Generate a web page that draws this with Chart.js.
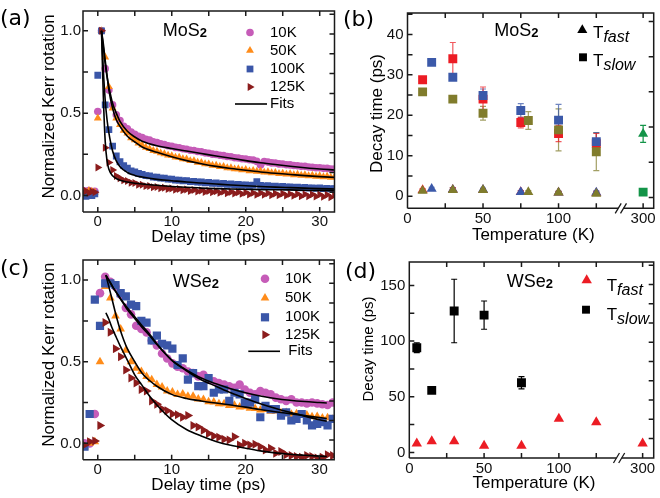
<!DOCTYPE html>
<html lang="en">
<head>
<meta charset="utf-8">
<title>Kerr rotation dynamics in MoS2 and WSe2</title>
<script src="https://cdn.jsdelivr.net/npm/chart.js@4.4.1/dist/chart.umd.min.js"></script>
<style>
  html, body { margin: 0; padding: 0; background: #fff; }
  #figure { position: relative; width: 660px; height: 498px; overflow: hidden; }
  #figure canvas { position: absolute; }
</style>
</head>
<body>
<div id="figure">
  <canvas id="panel-a" width="340" height="249" style="left:0;top:0"></canvas>
  <canvas id="panel-b" width="320" height="249" style="left:340px;top:0"></canvas>
  <canvas id="panel-c" width="340" height="249" style="left:0;top:249px"></canvas>
  <canvas id="panel-d" width="320" height="249" style="left:340px;top:249px"></canvas>
</div>
<script>
// ---------- (a) MoS2: normalized Kerr rotation vs delay ----------
const delayA = [-2, -1.6, -1.2, -0.8, -0.4, 0, 0.5,
  1, 1.5, 2, 2.5, 3, 3.5, 4, 4.5, 5, 5.5,
  6, 6.5, 7, 7.5, 8, 8.5, 9, 9.5, 10, 10.5,
  11, 11.5, 12, 12.5, 13, 13.5, 14, 14.5, 15, 15.5,
  16, 16.5, 17, 17.5, 18, 18.5, 19, 19.5, 20, 20.5,
  21, 21.5, 22, 22.5, 23, 23.5, 24, 24.5, 25, 25.5,
  26, 26.5, 27, 27.5, 28, 28.5, 29, 29.5, 30, 30.5,
  31, 31.5, 32];
const kerrA10K = [0.03, 0.025, 0.03, 0.02, 0.025, 0.51, 1.0,
  0.77, 0.64, 0.55, 0.49, 0.455, 0.42, 0.405, 0.385, 0.372, 0.36,
  0.352, 0.341, 0.336, 0.326, 0.321, 0.314, 0.309, 0.302, 0.299, 0.292,
  0.29, 0.284, 0.281, 0.275, 0.273, 0.267, 0.265, 0.259, 0.257, 0.251,
  0.249, 0.244, 0.242, 0.237, 0.235, 0.229, 0.228, 0.223, 0.222, 0.217,
  0.215, 0.207, 0.186, 0.206, 0.203, 0.198, 0.197, 0.192, 0.191, 0.187,
  0.186, 0.182, 0.181, 0.177, 0.177, 0.173, 0.172, 0.169, 0.169, 0.165,
  0.165, 0.161, 0.161];
const kerrA50K = [0.03, 0.02, 0.03, 0.025, 0.02, 0.47, 1.0,
  0.84, 0.66, 0.53, 0.47, 0.43, 0.395, 0.378, 0.35, 0.338, 0.318,
  0.305, 0.292, 0.284, 0.272, 0.268, 0.258, 0.253, 0.244, 0.241, 0.232,
  0.231, 0.222, 0.221, 0.211, 0.211, 0.201, 0.2, 0.192, 0.191, 0.183,
  0.183, 0.175, 0.176, 0.168, 0.168, 0.161, 0.162, 0.155, 0.157, 0.149,
  0.152, 0.146, 0.148, 0.141, 0.143, 0.137, 0.139, 0.133, 0.135, 0.129,
  0.132, 0.125, 0.128, 0.122, 0.125, 0.119, 0.122, 0.116, 0.119, 0.113,
  0.116, 0.11, 0.113];
const kerrA100K = [0.0, -0.005, 0.005, 0.0, 0.01, 0.73, 1.0,
  0.55, 0.40, 0.30, 0.24, 0.205, 0.182, 0.166, 0.15, 0.143, 0.134,
  0.129, 0.121, 0.119, 0.112, 0.111, 0.105, 0.105, 0.099, 0.099, 0.094,
  0.094, 0.089, 0.09, 0.085, 0.086, 0.081, 0.082, 0.077, 0.079, 0.074,
  0.076, 0.071, 0.073, 0.068, 0.07, 0.066, 0.067, 0.063, 0.065, 0.061,
  0.063, 0.085, 0.062, 0.057, 0.06, 0.055, 0.057, 0.053, 0.055, 0.051,
  0.053, 0.049, 0.051, 0.047, 0.049, 0.045, 0.047, 0.043, 0.046, 0.042,
  0.044, 0.04, 0.042];
const kerrA125K = [0.02, 0.028, 0.015, 0.025, 0.02, 0.17, 1.0,
  0.29, 0.20, 0.155, 0.118, 0.105, 0.092, 0.088, 0.078, 0.076, 0.066,
  0.066, 0.057, 0.058, 0.05, 0.052, 0.044, 0.047, 0.04, 0.043, 0.035,
  0.04, 0.032, 0.036, 0.028, 0.033, 0.024, 0.03, 0.022, 0.028, 0.02,
  0.026, 0.016, 0.024, 0.014, 0.022, 0.012, 0.02, 0.01, 0.018, 0.006,
  0.016, 0.005, 0.015, 0.004, 0.014, 0.002, 0.012, 0.001, 0.012, 0.0,
  0.01, -0.002, 0.009, -0.004, 0.008, -0.005, 0.007, -0.006, 0.006, -0.008,
  0.005, -0.01, 0.004];
const fitDelayA = [0.5, 0.75, 1, 1.25, 1.5, 2, 2.5, 3, 4, 5, 6, 8, 10, 12, 14, 16, 18, 20, 22, 24, 26, 28, 30, 32];
const fitA10K = [1.0, 0.90, 0.80, 0.72, 0.66, 0.56, 0.50, 0.45, 0.39, 0.355, 0.33, 0.302, 0.285, 0.27, 0.255, 0.24, 0.226, 0.212, 0.199, 0.188, 0.178, 0.169, 0.161, 0.155];
const fitA50K = [1.0, 0.92, 0.82, 0.73, 0.64, 0.53, 0.46, 0.42, 0.36, 0.325, 0.295, 0.262, 0.235, 0.212, 0.193, 0.177, 0.164, 0.153, 0.143, 0.135, 0.128, 0.121, 0.115, 0.11];
const fitA100K = [1.0, 0.76, 0.58, 0.46, 0.38, 0.27, 0.21, 0.175, 0.14, 0.122, 0.112, 0.098, 0.09, 0.082, 0.076, 0.07, 0.064, 0.059, 0.055, 0.051, 0.048, 0.045, 0.042, 0.04];
const fitA125K = [1.0, 0.6, 0.33, 0.21, 0.16, 0.12, 0.103, 0.093, 0.082, 0.075, 0.07, 0.062, 0.055, 0.05, 0.045, 0.042, 0.04, 0.038, 0.036, 0.035, 0.034, 0.032, 0.031, 0.03];

// ---------- (c) WSe2: normalized Kerr rotation vs delay ----------
const delayC = [-1.8, -1.1, -0.4, 0.3,
  1.0, 1.7, 2.4, 3.1, 3.8, 4.5, 5.2, 5.9, 6.6, 7.3,
  8.0, 8.7, 9.4, 10.1, 10.8, 11.5, 12.2, 12.9, 13.6, 14.3,
  15.0, 15.7, 16.4, 17.1, 17.8, 18.5, 19.2, 19.9, 20.6, 21.3,
  22.0, 22.7, 23.4, 24.1, 24.8, 25.5, 26.2, 26.9, 27.6, 28.3,
  29.0, 29.7, 30.4, 31.1, 31.8];
const kerrC10K = [0.0, 0.0, 0.18, 0.92,
  1.02, 0.99, 0.96, 0.91, 0.83, 0.79, 0.72, 0.70, 0.68, 0.63,
  0.60, 0.55, 0.52, 0.49, 0.47, 0.46, 0.44, 0.43, 0.41, 0.42,
  0.39, 0.38, 0.37, 0.36, 0.35, 0.34, 0.36, 0.33, 0.31, 0.30,
  0.32, 0.31, 0.30, 0.28, 0.27, 0.26, 0.27, 0.25, 0.25, 0.245,
  0.25, 0.245, 0.24, 0.235, 0.25];
const kerrC50K = [-0.02, 0.0, 0.01, 0.5,
  0.96, 0.89, 0.78, 0.70, 0.57, 0.50, 0.46, 0.44, 0.41, 0.39,
  0.36, 0.345, 0.32, 0.315, 0.3, 0.303, 0.288, 0.288, 0.272, 0.268,
  0.255, 0.253, 0.242, 0.243, 0.232, 0.233, 0.223, 0.225, 0.215, 0.214,
  0.205, 0.207, 0.197, 0.198, 0.188, 0.189, 0.179, 0.181, 0.171, 0.173,
  0.163, 0.165, 0.156, 0.157, 0.148];
const kerrC100K = [-0.02, 0.18, 0.88, 0.72,
  0.98, 0.98, 0.97, 0.92, 0.90, 0.85, 0.84, 0.75, 0.74, 0.63,
  0.66, 0.61, 0.60, 0.58, 0.48, 0.52, 0.39, 0.43, 0.35, 0.35,
  0.40, 0.31, 0.33, 0.33, 0.26, 0.31, 0.30, 0.25, 0.25, 0.27,
  0.16, 0.23, 0.21, 0.21, 0.17, 0.19, 0.14, 0.15, 0.18, 0.14,
  0.11, 0.12, 0.13, 0.11, 0.15];
const kerrC125K = [-0.01, 0.01, 0.014, 0.11,
  0.74, 0.68, 0.58, 0.53, 0.45, 0.40, 0.37, 0.33, 0.32, 0.26,
  0.24, 0.21, 0.20, 0.18, 0.175, 0.16, 0.17, 0.11, 0.10, 0.08,
  0.06, 0.045, 0.038, 0.025, 0.02, 0.04, -0.01, 0.0, -0.01, -0.005,
  -0.02, -0.04, -0.03, -0.06, -0.05, -0.07, -0.075, -0.08, -0.085, -0.075,
  -0.08, -0.09, -0.085, -0.07, -0.075];
const fitDelayC = [1.1, 1.5, 2, 2.5, 3, 3.5, 4, 5, 6, 7, 8, 10, 12, 14, 16, 18, 20, 22, 24, 26, 28, 30, 31];
const fitC10K = [1.03, 1.0, 0.96, 0.925, 0.89, 0.86, 0.83, 0.775, 0.72, 0.67, 0.61, 0.51, 0.45, 0.40, 0.365, 0.335, 0.31, 0.29, 0.275, 0.264, 0.256, 0.25, 0.247];
const fitC50K = [1.03, 0.96, 0.87, 0.78, 0.70, 0.635, 0.58, 0.50, 0.43, 0.385, 0.35, 0.30, 0.275, 0.26, 0.247, 0.235, 0.222, 0.207, 0.194, 0.182, 0.17, 0.158, 0.152];
const fitC100K = [1.03, 1.0, 0.96, 0.925, 0.89, 0.855, 0.82, 0.765, 0.71, 0.66, 0.605, 0.51, 0.445, 0.39, 0.35, 0.31, 0.275, 0.243, 0.215, 0.19, 0.167, 0.145, 0.135];
const fitC125K = [0.80, 0.76, 0.70, 0.65, 0.60, 0.555, 0.51, 0.42, 0.355, 0.29, 0.235, 0.145, 0.085, 0.045, 0.012, -0.012, -0.03, -0.046, -0.058, -0.067, -0.073, -0.078, -0.08];

// ---------- (b) MoS2: decay times vs temperature (three samples) ----------
const tempRedB = [10, 30, 50, 75, 100, 125];
const slowRedB = [28.8, 34.0, 24.0, 18.2, 15.5, 13.0];
const slowRedErrB = [0.5, 4.0, 3.0, 1.3, 2.0, 2.5];
const fastRedB = [1.5, 1.6, 1.5, 1.0, 0.9, 0.8];
const tempBlueB = [16, 30, 50, 75, 100, 125];
const slowBlueB = [33.1, 29.4, 24.9, 21.2, 18.8, 13.5];
const slowBlueErrB = [0.5, 0.6, 1.6, 1.7, 3.9, 2.2];
const fastBlueB = [1.8, 1.6, 1.6, 1.0, 0.9, 0.9];
const tempOliveB = [10, 30, 50, 80, 100, 125];
const slowOliveB = [25.8, 24.0, 20.5, 18.7, 16.4, 11.0];
const slowOliveErrB = [0.5, 0.5, 1.7, 2.2, 5.2, 4.7];
const fastOliveB = [1.3, 1.5, 1.5, 1.0, 0.9, 0.6];
const fastErrB = [0.4, 0.5, 0.4, 0.4, 0.3, 0.4];
const tempGreenB = [300];
const slowGreenB = [1.0];
const fastGreenB = [15.4];
const fastGreenErrB = [2.1];

// ---------- (d) WSe2: decay times vs temperature ----------
const tempSlowD = [5, 15, 30, 50, 75];
const slowD = [94, 55.7, 127, 123.3, 62.6];
const slowErrD = [4.4, 2.5, 28.5, 12.7, 5.5];
const tempFastD = [5, 15, 30, 50, 75, 100, 125, 300];
const fastD = [8, 10, 10, 6, 6, 30.3, 27.1, 8];

// ---------- axis ticks ----------
const delayTicks = [0, 5, 10, 15, 20, 25, 30];
const kerrTicks = [0, 0.25, 0.5, 0.75, 1.0];
const tempTicks = [0, 25, 50, 75, 100, 125, 300];
const decayTicksB = [0, 5, 10, 15, 20, 25, 30, 35, 40, 45];
const decayTicksD = [0, 25, 50, 75, 100, 125, 150];

// ---------- styling ----------
const SANS = "'Liberation Sans', Arial, Helvetica, sans-serif";
const LETTER = "'DejaVu Sans', sans-serif";
Chart.defaults.font.family = SANS;
Chart.defaults.color = "#000";

const S10K = { shape: "circle", r: 3.8, color: "#c65cb8", order: 4 };
const S50K = { shape: "triangle", r: 4.6, color: "#ff8c1a", order: 3 };
const S100K = { shape: "rect", r: 4.8, color: "#3a56a8", order: 2 };
const S125K = { shape: "triangle", r: 4.6, rotation: 90, color: "#8b1c1c", order: 1 };
const C10K = { ...S10K, r: 4.3 };
const C50K = { ...S50K, r: 5 };
const C100K = { ...S100K, r: 5.8 };
const C125K = { ...S125K, r: 5.2 };

const RED = "#ec1c24", BLUE = "#3b59a9", OLIVE = "#807c2c", GREEN = "#139448";
const sq = (color, order) => ({ shape: "rect", r: 6.3, color, order });
const tri = (color, order) => ({ shape: "triangle", r: 5.8, color, order });
const errTint = (hex) => hex + "bb";

// temperatures above the break are slid left so 300 K sits just past it
const BREAK_SHIFT = 144;
const onAxis = (t) => (t > 200 ? t - BREAK_SHIFT : t);
const tempLabel = (v) => {
  const t = v > 140 ? v + BREAK_SHIFT : v;
  return t % 50 === 0 ? String(t) : "";
};

function series(xs, ys, style, extra = {}) {
  return {
    data: xs.map((x, i) => ({ x, y: ys[i] })),
    showLine: false,
    pointStyle: style.shape,
    pointRotation: style.rotation || 0,
    pointRadius: style.r,
    pointBorderWidth: 0,
    backgroundColor: style.color,
    borderColor: style.color,
    order: style.order,
    ...extra
  };
}

function fitLine(xs, ys) {
  return {
    data: xs.map((x, i) => ({ x, y: ys[i] })),
    showLine: true,
    pointRadius: 0,
    borderColor: "#000",
    borderWidth: 1.6,
    cubicInterpolationMode: "monotone",
    order: 0
  };
}

function axis(o, dir) {
  return {
    type: "linear",
    min: o.min,
    max: o.max,
    grid: { display: false, drawTicks: false },
    border: { display: false },
    ticks: { font: { size: 15 }, color: "#111", padding: o.pad, autoSkip: false, maxRotation: 0, callback: o.label },
    afterBuildTicks: (scale) => { scale.ticks = o.ticks.map((v) => ({ value: v })); },
    afterFit: (scale) => { if (dir === "x") scale.height = o.size; else scale.width = o.size; }
  };
}

// vertical error bars, drawn under the markers
const errorBars = {
  id: "errorBars",
  beforeDatasetsDraw(chart) {
    const { ctx, scales: { y } } = chart;
    ctx.save();
    ctx.lineWidth = 1.2;
    chart.data.datasets.forEach((ds, i) => {
      if (!ds.errors) return;
      const meta = chart.getDatasetMeta(i);
      ctx.strokeStyle = ds.errorColor || ds.borderColor;
      ctx.beginPath();
      meta.data.forEach((pt, j) => {
        const e = ds.errors[j];
        if (!e) return;
        const v = ds.data[j].y;
        const top = y.getPixelForValue(v + e);
        const bot = y.getPixelForValue(v - e);
        ctx.moveTo(pt.x, top); ctx.lineTo(pt.x, bot);
        ctx.moveTo(pt.x - 3, top); ctx.lineTo(pt.x + 3, top);
        ctx.moveTo(pt.x - 3, bot); ctx.lineTo(pt.x + 3, bot);
      });
      ctx.stroke();
    });
    ctx.restore();
  }
};

// closed frame with inward ticks on all four sides, optional break on the bottom axis
const frame = {
  id: "frame",
  afterDatasetsDraw(chart, _args, o) {
    const { ctx, chartArea: a, scales: { x, y } } = chart;
    const len = 5;
    ctx.save();
    ctx.strokeStyle = "#1a1a1a";
    ctx.lineWidth = 1.5;
    ctx.beginPath();
    ctx.moveTo(a.left, a.bottom);
    ctx.lineTo(a.left, a.top);
    ctx.lineTo(a.right, a.top);
    ctx.lineTo(a.right, a.bottom);
    if (o.breakAt) {
      ctx.lineTo(x.getPixelForValue(o.breakAt[1]), a.bottom);
      ctx.moveTo(x.getPixelForValue(o.breakAt[0]), a.bottom);
    }
    ctx.lineTo(a.left, a.bottom);
    x.ticks.forEach((t) => {
      const px = x.getPixelForValue(t.value);
      ctx.moveTo(px, a.bottom); ctx.lineTo(px, a.bottom - len);
      ctx.moveTo(px, a.top); ctx.lineTo(px, a.top + len);
    });
    y.ticks.forEach((t) => {
      const py = y.getPixelForValue(t.value);
      ctx.moveTo(a.left, py); ctx.lineTo(a.left + len, py);
    });
    o.rightTicks.forEach((v) => {
      const py = y.getPixelForValue(v);
      ctx.moveTo(a.right, py); ctx.lineTo(a.right - len, py);
    });
    ctx.stroke();
    if (o.breakAt) {
      ctx.lineWidth = 1.3;
      ctx.beginPath();
      o.breakAt.forEach((v) => {
        const px = x.getPixelForValue(v);
        ctx.moveTo(px - 3, a.bottom + 5);
        ctx.lineTo(px + 3, a.bottom - 5);
      });
      ctx.stroke();
    }
    ctx.restore();
  }
};

function marker(ctx, s, x, y) {
  ctx.fillStyle = s.color;
  Chart.helpers.drawPoint(ctx, { pointStyle: s.shape, rotation: s.rotation || 0, radius: s.r, borderWidth: 0 }, x, y);
}

function drawRun(ctx, parts, x, y) {
  ctx.textAlign = "left";
  ctx.textBaseline = "alphabetic";
  ctx.fillStyle = "#000";
  parts.forEach((p) => {
    ctx.font = p.font;
    ctx.fillText(p.text, x, y + (p.dy || 0));
    x += ctx.measureText(p.text).width;
  });
}

// axis titles, panel letter, compound name and the in-plot keys
const panelText = {
  id: "panelText",
  afterDraw(chart, _args, o) {
    const ctx = chart.ctx;
    ctx.save();
    ctx.fillStyle = "#000";
    o.titles.forEach((t) => {
      ctx.save();
      ctx.translate(t.x, t.y);
      if (t.vertical) ctx.rotate(-Math.PI / 2);
      ctx.font = `${t.size}px ${SANS}`;
      ctx.textAlign = "center";
      ctx.textBaseline = "middle";
      ctx.fillText(t.text, 0, 0);
      ctx.restore();
    });
    o.runs.forEach((r) => drawRun(ctx, r.parts, r.x, r.y));
    o.keys.forEach((k) => {
      if (k.line) {
        ctx.strokeStyle = "#000";
        ctx.lineWidth = 1.6;
        ctx.beginPath();
        ctx.moveTo(k.line[0], k.y);
        ctx.lineTo(k.line[1], k.y);
        ctx.stroke();
      } else {
        marker(ctx, k.style, k.x, k.y);
      }
      if (k.text) {
        ctx.fillStyle = "#000";
        ctx.font = `15px ${SANS}`;
        ctx.textAlign = "left";
        ctx.textBaseline = "middle";
        ctx.fillText(k.text, k.tx, k.y);
      }
    });
    ctx.restore();
  }
};

function panel(id, cfg) {
  return new Chart(document.getElementById(id), {
    type: "scatter",
    data: { datasets: cfg.datasets },
    options: {
      responsive: false,
      animation: false,
      events: [],
      layout: { padding: cfg.padding },
      plugins: {
        legend: { display: false },
        tooltip: { enabled: false },
        frame: cfg.frame,
        panelText: cfg.text
      },
      scales: { x: axis(cfg.x, "x"), y: axis(cfg.y, "y") }
    },
    plugins: [errorBars, frame, panelText]
  });
}

const compound = (base, x, y) => ({
  x, y,
  parts: [{ text: base, font: `18px ${SANS}` }, { text: "2", font: `bold 13px ${SANS}`, dy: 1 }]
});
const letter = (text, x, y) => ({ x, y, parts: [{ text, font: `22px ${LETTER}` }] });
const tau = (sub, x, y) => ({
  x, y,
  parts: [{ text: "T", font: `17px ${SANS}` }, { text: sub, font: `italic 16px ${SANS}`, dy: 4 }]
});

const delayLabel = (v) => (v % 10 === 0 ? String(v) : "");
const kerrLabel = (v) => (Math.abs(v % 0.5) < 1e-9 ? v.toFixed(1) : "");
const kerrRight = [0.02, 0.14, 0.26, 0.38, 0.5, 0.62, 0.74, 0.86, 0.98, 1.1];

panel("panel-a", {
  padding: { left: 0, right: 5.5, top: 7, bottom: 0 },
  x: { min: -2, max: 32, ticks: delayTicks, label: delayLabel, size: 37, pad: 1 },
  y: { min: -0.1, max: 1.12, ticks: kerrTicks, label: kerrLabel, size: 83, pad: 2 },
  datasets: [
    fitLine(fitDelayA, fitA10K), fitLine(fitDelayA, fitA50K),
    fitLine(fitDelayA, fitA100K), fitLine(fitDelayA, fitA125K),
    series(delayA, kerrA125K, S125K), series(delayA, kerrA100K, S100K),
    series(delayA, kerrA50K, S50K), series(delayA, kerrA10K, S10K)
  ],
  frame: { rightTicks: kerrRight },
  text: {
    titles: [
      { text: "Normalized Kerr rotation", x: 49, y: 106.5, size: 17, vertical: true },
      { text: "Delay time (ps)", x: 208.5, y: 237.5, size: 17 }
    ],
    runs: [letter("(a)", 0, 25.3), compound("MoS", 162.7, 36)],
    keys: [
      { style: S10K, x: 250, y: 32.5, text: "10K", tx: 270 },
      { style: S50K, x: 250, y: 50.5, text: "50K", tx: 270 },
      { style: S100K, x: 250, y: 69, text: "100K", tx: 270 },
      { style: S125K, x: 250, y: 87, text: "125K", tx: 270 },
      { line: [235, 267], y: 104, text: "Fits", tx: 270 }
    ]
  }
});

panel("panel-c", {
  padding: { left: 0, right: 5.5, top: 5.7, bottom: 0 },
  x: { min: -2, max: 32, ticks: delayTicks, label: delayLabel, size: 38.3, pad: 1 },
  y: { min: -0.1, max: 1.123, ticks: kerrTicks, label: kerrLabel, size: 83, pad: 2 },
  datasets: [
    fitLine(fitDelayC, fitC10K), fitLine(fitDelayC, fitC50K),
    fitLine(fitDelayC, fitC100K), fitLine(fitDelayC, fitC125K),
    series(delayC, kerrC125K, C125K), series(delayC, kerrC100K, C100K),
    series(delayC, kerrC50K, C50K), series(delayC, kerrC10K, C10K)
  ],
  frame: { rightTicks: kerrRight },
  text: {
    titles: [
      { text: "Normalized Kerr rotation", x: 49, y: 105.7, size: 17, vertical: true },
      { text: "Delay time (ps)", x: 208.5, y: 236.5, size: 17 }
    ],
    runs: [letter("(c)", 0, 25.5), compound("WSe", 172.7, 38.3)],
    keys: [
      { style: C10K, x: 265, y: 29.7, text: "10K", tx: 285 },
      { style: C50K, x: 265, y: 49, text: "50K", tx: 285 },
      { style: C100K, x: 265, y: 68.3, text: "100K", tx: 285 },
      { style: C125K, x: 265, y: 85.7, text: "125K", tx: 285 },
      { line: [248.3, 280], y: 102.3, text: "Fits", tx: 288.3 }
    ]
  }
});

panel("panel-b", {
  padding: { left: 0, right: 5, top: 5, bottom: 0 },
  x: { min: 0, max: 163, ticks: tempTicks.map(onAxis), label: tempLabel, size: 40.7, pad: 2 },
  y: { min: -3, max: 45.3, ticks: decayTicksB, label: (v) => (v % 10 === 0 ? String(v) : ""), size: 67.5, pad: 4 },
  datasets: [
    series(tempOliveB, slowOliveB, sq(OLIVE, 1), { errors: slowOliveErrB, errorColor: errTint(OLIVE) }),
    series(tempBlueB, slowBlueB, sq(BLUE, 2), { errors: slowBlueErrB, errorColor: errTint(BLUE) }),
    series(tempRedB, slowRedB, sq(RED, 3), { errors: slowRedErrB, errorColor: errTint(RED) }),
    series(tempOliveB, fastOliveB, tri(OLIVE, 1), { errors: fastErrB, errorColor: errTint(OLIVE) }),
    series(tempBlueB, fastBlueB, tri(BLUE, 2), { errors: fastErrB, errorColor: errTint(BLUE) }),
    series(tempRedB, fastRedB, tri(RED, 3), { errors: fastErrB, errorColor: errTint(RED) }),
    series(tempGreenB.map(onAxis), slowGreenB, sq(GREEN, 1)),
    series(tempGreenB.map(onAxis), fastGreenB, tri(GREEN, 1), { errors: fastGreenErrB, errorColor: GREEN })
  ],
  frame: { rightTicks: [-0.3, 8.4, 17.1, 25.8, 34.5, 43.2], breakAt: [139.5, 143] },
  text: {
    titles: [
      { text: "Decay time (ps)", x: 37, y: 113.5, size: 17, vertical: true },
      { text: "Temperature (K)", x: 193.3, y: 235, size: 17 }
    ],
    runs: [letter("(b)", 3, 26), compound("MoS", 154.3, 36), tau("fast", 253, 38.3), tau("slow", 253, 66)],
    keys: [
      { style: tri("#000"), x: 242.3, y: 30 },
      { style: { ...sq("#000"), r: 5.6 }, x: 243, y: 57.3 }
    ]
  }
});

panel("panel-d", {
  padding: { left: 0, right: 1.7, top: 5.7, bottom: 0 },
  x: { min: 0, max: 163.4, ticks: tempTicks.map(onAxis), label: tempLabel, size: 40, pad: 2 },
  y: { min: -5, max: 171, ticks: decayTicksD, label: (v) => (v % 50 === 0 ? String(v) : ""), size: 69.3, pad: 4 },
  datasets: [
    series(tempSlowD, slowD, sq("#000", 2), { errors: slowErrD, errorColor: "#000" }),
    series(tempFastD.map(onAxis), fastD, { ...tri(RED, 1), r: 6 })
  ],
  frame: { rightTicks: [12.4, 29.7, 47, 64.3, 81.6, 98.9, 116.2, 133.5, 150.8, 168.1], breakAt: [138.5, 142] },
  text: {
    titles: [
      { text: "Decay time (ps)", x: 29, y: 100, size: 15, vertical: true },
      { text: "Temperature (K)", x: 194, y: 234, size: 17 }
    ],
    runs: [letter("(d)", 5, 29), compound("WSe", 166.7, 38.3), tau("fast", 266.7, 42.3), tau("slow", 266.7, 70.7)],
    keys: [
      { style: { ...tri(RED), r: 6 }, x: 246.7, y: 31.3 },
      { style: { ...sq("#000"), r: 5.6 }, x: 246, y: 60.7 }
    ]
  }
});
</script>
</body>
</html>
